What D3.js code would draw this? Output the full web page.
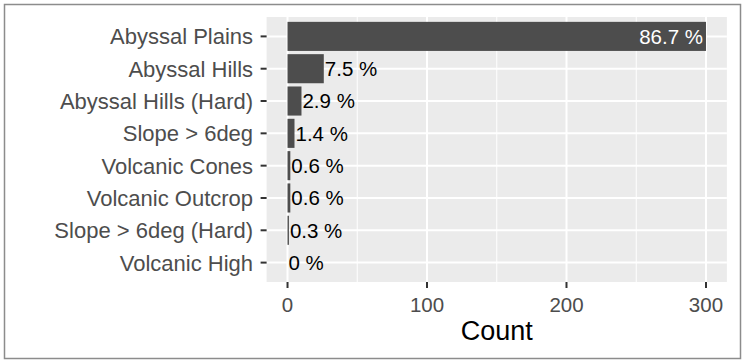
<!DOCTYPE html>
<meta charset="utf-8">
<head>
<script src="https://cdn.jsdelivr.net/npm/d3@7"></script>
<style>
body { margin: 0; background: #fff; }
text { font-family: "Liberation Sans", Arial, sans-serif; }
</style>
</head>
<body>
<div id="chart"></div>
<script>
// data, in bottom-to-top order as plotted (top first)
var categories = ["Abyssal Plains", "Abyssal Hills", "Abyssal Hills (Hard)", "Slope > 6deg",
                  "Volcanic Cones", "Volcanic Outcrop", "Slope > 6deg (Hard)", "Volcanic High"];
var counts = [300, 26, 10, 5, 2, 2, 1, 0];
var xTicks = [0, 100, 200, 300];
var xMinor = [50, 150, 250];

var total = d3.sum(counts);
var data = categories.map(function(c, i) {
  return {cat: c, n: counts[i], pct: Math.round(counts[i] / total * 1000) / 10};
});

var W = 746, H = 363;
var panel = {left: 266.6, right: 726.9, top: 17, bottom: 282};

var svg = d3.select("#chart").append("svg")
    .attr("width", W)
    .attr("height", H);

// outer border
svg.append("rect")
    .attr("x", 4.5).attr("y", 4.5)
    .attr("width", 736).attr("height", 354)
    .attr("fill", "#fff")
    .attr("stroke", "#8c8c8c")
    .attr("stroke-width", 1.5);

var x = d3.scaleLinear()
    .domain([-15, 315])
    .range([panel.left, panel.right]);

var y = d3.scaleBand()
    .domain(categories)
    .range([panel.top, panel.bottom])
    .paddingInner(0.1)
    .paddingOuter(0.15);

// panel background
svg.append("rect")
    .attr("x", panel.left).attr("y", panel.top)
    .attr("width", panel.right - panel.left)
    .attr("height", panel.bottom - panel.top)
    .attr("fill", "#ebebeb");

// grid
svg.selectAll(".minor").data(xMinor).enter().append("line")
    .attr("x1", d => x(d)).attr("x2", d => x(d))
    .attr("y1", panel.top).attr("y2", panel.bottom)
    .attr("stroke", "#fff").attr("stroke-width", 1);

svg.selectAll(".vmajor").data(xTicks).enter().append("line")
    .attr("x1", d => x(d)).attr("x2", d => x(d))
    .attr("y1", panel.top).attr("y2", panel.bottom)
    .attr("stroke", "#fff").attr("stroke-width", 2);

svg.selectAll(".hmajor").data(categories).enter().append("line")
    .attr("x1", panel.left).attr("x2", panel.right)
    .attr("y1", d => y(d) + y.bandwidth() / 2).attr("y2", d => y(d) + y.bandwidth() / 2)
    .attr("stroke", "#fff").attr("stroke-width", 2);

// bars
svg.selectAll(".bar").data(data).enter().append("rect")
    .attr("class", "bar")
    .attr("x", x(0))
    .attr("y", d => y(d.cat))
    .attr("width", d => x(d.n) - x(0))
    .attr("height", y.bandwidth())
    .attr("fill", "#4d4d4d");

// bar labels
var maxN = d3.max(counts);
svg.selectAll(".lab").data(data).enter().append("text")
    .attr("x", d => d.n == maxN ? x(d.n) - 3 : x(d.n) + 1)
    .attr("y", d => y(d.cat) + y.bandwidth() / 2)
    .attr("dy", "0.36em")
    .attr("text-anchor", d => d.n == maxN ? "end" : "start")
    .attr("fill", d => d.n == maxN ? "#fff" : "#000")
    .style("font-size", "20.5px")
    .text(d => d.pct + " %");

// y axis ticks + labels
svg.selectAll(".ytick").data(categories).enter().append("line")
    .attr("x1", panel.left - 6).attr("x2", panel.left)
    .attr("y1", d => y(d) + y.bandwidth() / 2).attr("y2", d => y(d) + y.bandwidth() / 2)
    .attr("stroke", "#333").attr("stroke-width", 2);

svg.selectAll(".ylab").data(categories).enter().append("text")
    .attr("x", panel.left - 13.5)
    .attr("y", d => y(d) + y.bandwidth() / 2)
    .attr("dy", "0.36em")
    .attr("text-anchor", "end")
    .attr("fill", "#4d4d4d")
    .style("font-size", "22px")
    .text(d => d);

// x axis ticks + labels
svg.selectAll(".xtick").data(xTicks).enter().append("line")
    .attr("x1", d => x(d)).attr("x2", d => x(d))
    .attr("y1", panel.bottom).attr("y2", panel.bottom + 6)
    .attr("stroke", "#333").attr("stroke-width", 2);

svg.selectAll(".xlab").data(xTicks).enter().append("text")
    .attr("x", d => x(d))
    .attr("y", 311.5)
    .attr("text-anchor", "middle")
    .attr("fill", "#4d4d4d")
    .style("font-size", "20.5px")
    .text(d => d);

svg.append("text")
    .attr("x", (panel.left + panel.right) / 2)
    .attr("y", 340)
    .attr("text-anchor", "middle")
    .attr("fill", "#000")
    .style("font-size", "27px")
    .text("Count");
</script>
</body>
